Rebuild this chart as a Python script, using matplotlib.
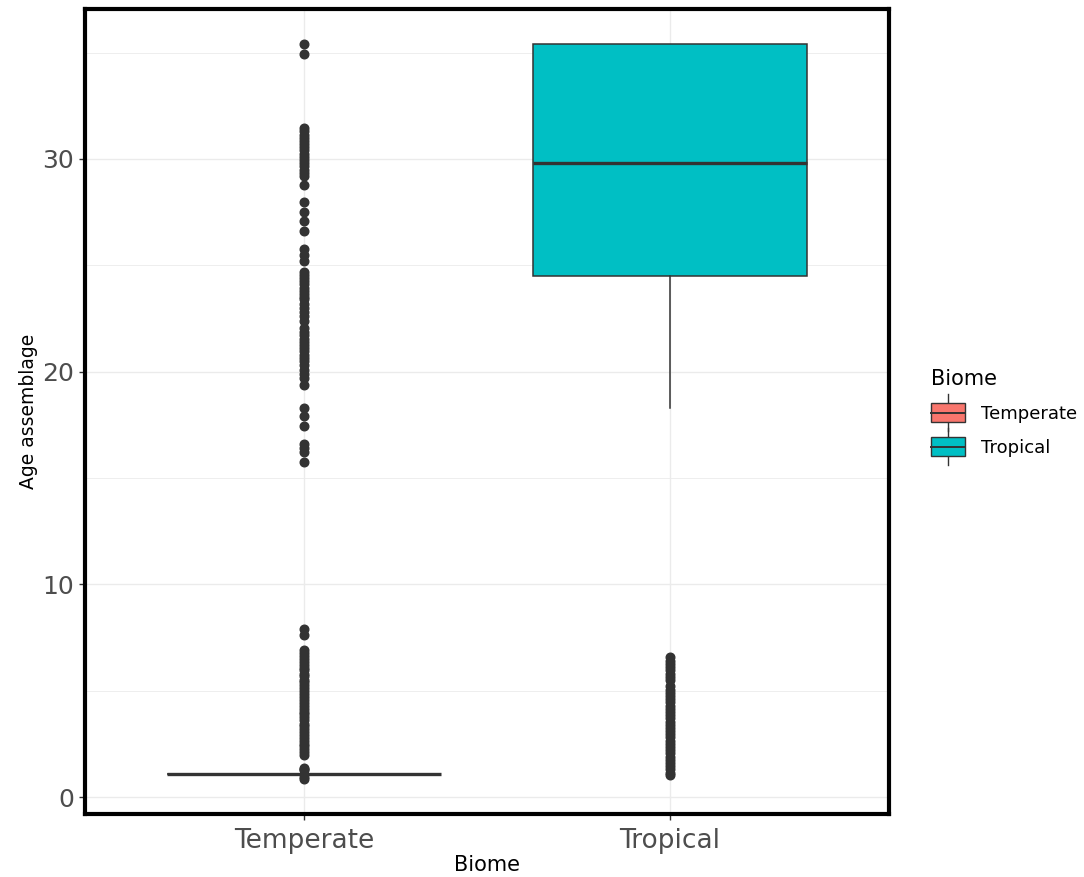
import matplotlib
matplotlib.use("Agg")
import matplotlib.pyplot as plt
from matplotlib.legend_handler import HandlerBase
from matplotlib.patches import Rectangle
from matplotlib.lines import Line2D
from matplotlib.ticker import MultipleLocator

plt.rcParams['font.family'] = ['DejaVu Sans']

biomes = ['Temperate', 'Tropical']
colors = ['#F8766D', '#00BFC4']

# box stats
q1 = [1.1, 24.5]
med = [1.1, 29.8]
q3 = [1.1, 35.4]
whislo = [1.1, 18.3]
whishi = [1.1, 35.4]

temperate_out = [0.85, 0.92, 1.25, 1.32, 1.38,
                 1.97, 2.1, 2.24, 2.38, 2.5, 2.65, 2.79, 2.9, 3.05, 3.18, 3.33,
                 3.45, 3.6, 3.74, 3.88, 4.0, 4.15, 4.3, 4.42, 4.56, 4.7, 4.85,
                 4.98, 5.12, 5.26, 5.4, 5.52, 5.67, 5.8, 5.95, 6.08, 6.22, 6.36,
                 6.5, 6.62, 6.78, 6.9, 7.6, 7.9,
                 15.75, 16.2, 16.4, 16.6, 17.45, 17.9, 18.3, 19.37, 19.7, 19.9,
                 20.1, 20.3, 20.5, 20.65, 20.8, 20.95, 21.1, 21.25, 21.4, 21.55,
                 21.7, 21.85, 22.05, 22.4, 22.6, 22.8, 23.0, 23.2, 23.4, 23.5,
                 23.65, 23.8, 23.95, 24.1, 24.25, 24.4, 24.55, 24.7, 25.2, 25.5,
                 25.76, 26.6, 27.08, 27.5, 27.97, 28.77, 29.2, 29.35, 29.5, 29.65,
                 29.8, 29.95, 30.1, 30.25, 30.4, 30.55, 30.7, 30.85, 31.0, 31.15,
                 31.3, 31.45, 34.93, 35.4]
tropical_out = [1.03, 1.15, 1.3, 1.45, 1.6, 1.75, 1.9, 2.05, 2.2, 2.35, 2.5,
                2.65, 2.8, 2.95, 3.1, 3.25, 3.4, 3.55, 3.7, 3.85, 4.0, 4.15,
                4.3, 4.45, 4.6, 4.75, 4.9, 5.05, 5.2, 5.5, 5.65, 5.8, 5.95,
                6.1, 6.25, 6.4, 6.58]

stats = []
fliers = [temperate_out, tropical_out]
for i in range(len(biomes)):
    stats.append(dict(q1=q1[i], med=med[i], q3=q3[i], whislo=whislo[i],
                      whishi=whishi[i], fliers=fliers[i], label=biomes[i]))

fig = plt.figure(figsize=(10.84, 8.77), dpi=100)
ax = fig.add_axes([0.0784, 0.0718, 0.8417 - 0.0784 - 0.0215, 0.9897 - 0.0718])

box_edge = '#333333'
bp = ax.bxp(stats, positions=[1, 2], widths=0.75, patch_artist=True,
            showcaps=False,
            boxprops=dict(edgecolor=box_edge, linewidth=1.1),
            medianprops=dict(color=box_edge, linewidth=2.4),
            whiskerprops=dict(color=box_edge, linewidth=1.1),
            flierprops=dict(marker='o', markerfacecolor=box_edge,
                            markeredgecolor=box_edge, markersize=6.2))
for patch, c in zip(bp['boxes'], colors):
    patch.set_facecolor(c)
for m in bp['medians']:
    m.set_solid_capstyle('butt')

ax.set_xlim(0.4, 2.6)
ax.set_ylim(-0.8, 37.05)
ax.yaxis.set_major_locator(MultipleLocator(10))
ax.yaxis.set_minor_locator(MultipleLocator(5))
ax.set_axisbelow(True)
ax.grid(True, which='major', color='#EBEBEB', linewidth=1.0)
ax.grid(True, which='minor', axis='y', color='#EBEBEB', linewidth=0.6)
ax.tick_params(which='minor', length=0)
ax.tick_params(which='major', length=4, width=1, color='#333333',
               labelcolor='#4D4D4D', labelsize=18)
ax.tick_params(axis='x', labelsize=19, pad=6)
ax.tick_params(axis='y', pad=4)
for s in ax.spines.values():
    s.set_linewidth(3)
    s.set_color('black')

ax.set_xlabel('Biome', fontsize=15, labelpad=1)
ax.set_ylabel('Age assemblage', fontsize=13.5, labelpad=3)


class BoxHandler(HandlerBase):
    def create_artists(self, legend, orig_handle, xdescent, ydescent,
                       width, height, fontsize, trans):
        fc = orig_handle.get_facecolor()
        bh = height * 1.0
        y0 = (height - bh) / 2 - ydescent
        x0 = -xdescent
        rect = Rectangle((x0, y0), width, bh, facecolor=fc,
                         edgecolor=box_edge, linewidth=1.0, transform=trans)
        midy = y0 + bh / 2
        medl = Line2D([x0, x0 + width], [midy, midy], color=box_edge,
                      linewidth=1.4, transform=trans)
        cx = x0 + width / 2
        top = Line2D([cx, cx], [y0 + bh, y0 + bh + height * 0.45],
                     color=box_edge, linewidth=1.0, transform=trans)
        bot = Line2D([cx, cx], [y0, y0 - height * 0.45],
                     color=box_edge, linewidth=1.0, transform=trans)
        return [top, bot, rect, medl]


handles = [Rectangle((0, 0), 1, 1, facecolor=c) for c in colors]
leg = fig.legend(handles, biomes, loc='upper left',
                 bbox_to_anchor=(0.852, 0.588), frameon=False,
                 title='Biome', title_fontsize=15, fontsize=13,
                 handler_map={Rectangle: BoxHandler()},
                 handlelength=1.9, handleheight=1.25, handletextpad=0.9,
                 labelspacing=0.8, borderaxespad=0)
leg._legend_box.align = 'left'

fig.savefig('out.png', dpi=100)
